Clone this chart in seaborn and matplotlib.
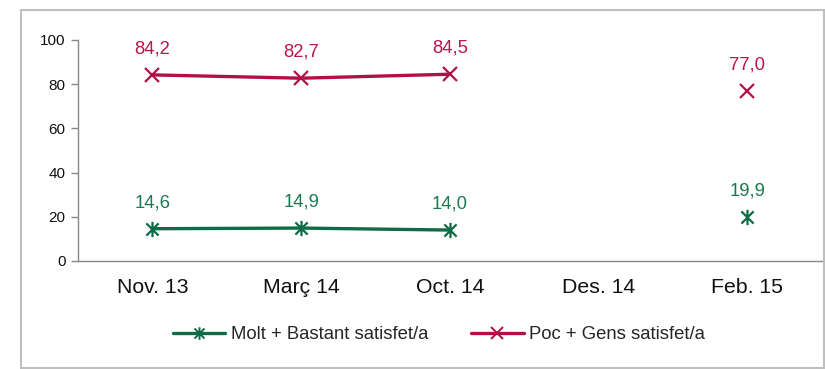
import numpy as np
import pandas as pd
import matplotlib
matplotlib.use("Agg")
import matplotlib.pyplot as plt
from matplotlib.path import Path
from matplotlib.lines import Line2D
from matplotlib.patches import Rectangle
import seaborn as sns

categories = ["Nov. 13", "Març 14", "Oct. 14", "Des. 14", "Feb. 15"]
molt_bastant = [14.6, 14.9, 14.0, np.nan, 19.9]
poc_gens = [84.2, 82.7, 84.5, np.nan, 77.0]
series_names = ["Molt + Bastant satisfet/a", "Poc + Gens satisfet/a"]
yticks = [0, 20, 40, 60, 80, 100]

green = "#0E6B47"
red = "#B20E48"
green_txt = "#1A7A52"
red_txt = "#B8164F"

sns.set_theme(style="white")
plt.rcParams["font.family"] = ["Liberation Sans", "DejaVu Sans"]

# asterisk marker (x plus vertical bar)
ast = Path([(-1, -1), (1, 1), (-1, 1), (1, -1), (0, -1.25), (0, 1.25)],
           [Path.MOVETO, Path.LINETO, Path.MOVETO, Path.LINETO, Path.MOVETO, Path.LINETO])

rows = []
for name, vals in zip(series_names, [molt_bastant, poc_gens]):
    seg = 0
    for i, v in enumerate(vals):
        if np.isnan(v):
            seg += 1
            continue
        rows.append({"series": name, "x": i, "value": v, "seg": seg})
df = pd.DataFrame(rows)

fig = plt.figure(figsize=(8.25, 3.69), dpi=100)
ax = fig.add_axes([0.0945, 0.2927, 0.9015, 0.599])

styles = {series_names[0]: (green, ast, 11, 1.6),
          series_names[1]: (red, "x", 10.5, 1.6)}
for name in series_names:
    col, mk, ms, mew = styles[name]
    sub = df[df["series"] == name]
    sns.lineplot(data=sub, x="x", y="value", units="seg", estimator=None,
                 color=col, linewidth=2.4, marker=mk, markersize=ms,
                 markeredgewidth=mew, markeredgecolor=col, markerfacecolor="none",
                 ax=ax, legend=False, sort=False)

for vals, tc in [(molt_bastant, green_txt), (poc_gens, red_txt)]:
    for i, v in enumerate(vals):
        if np.isnan(v):
            continue
        ax.annotate(f"{v:.1f}".replace(".", ","), (i, v), xytext=(0, 12.5),
                    textcoords="offset points", ha="center", va="bottom",
                    color=tc, fontsize=13.3)

ax.set_xlim(-0.5, len(categories) - 0.5)
ax.set_ylim(0, 100)
ax.set_yticks(yticks)
ax.set_yticklabels([str(t) for t in yticks], fontsize=11, color="#111111")
ax.set_xticks(range(len(categories)))
ax.set_xticklabels(categories, fontsize=15.3, color="#111111")
ax.set_xticks(np.arange(-0.5, len(categories), 1.0), minor=True)
ax.tick_params(axis="x", which="major", length=0, pad=12)
ax.tick_params(axis="x", which="minor", length=5, color="#888888", width=1, direction="out")
ax.tick_params(axis="y", length=5, color="#888888", width=1, direction="out", pad=4, left=True)
ax.set_xlabel("")
ax.set_ylabel("")
for s in ["top", "right"]:
    ax.spines[s].set_visible(False)
for s in ["left", "bottom"]:
    ax.spines[s].set_color("#888888")
    ax.spines[s].set_linewidth(1)
ax.grid(False)

handles = [Line2D([], [], color=green, lw=2.4, marker=ast, markersize=9,
                  markeredgewidth=1.4, markeredgecolor=green),
           Line2D([], [], color=red, lw=2.4, marker="x", markersize=8,
                  markeredgewidth=1.4, markeredgecolor=red)]
fig.legend(handles, series_names, loc="center", bbox_to_anchor=(0.532, 0.093),
           ncol=2, frameon=False, fontsize=13.3, handlelength=2.85,
           handletextpad=0.3, columnspacing=2.3)

fig.patches.append(Rectangle((21 / 825, 1 / 369), 803 / 825, 358 / 369,
                             transform=fig.transFigure, fill=False,
                             edgecolor="#BFBFBF", linewidth=1.5))

fig.savefig("out.png", dpi=100)
